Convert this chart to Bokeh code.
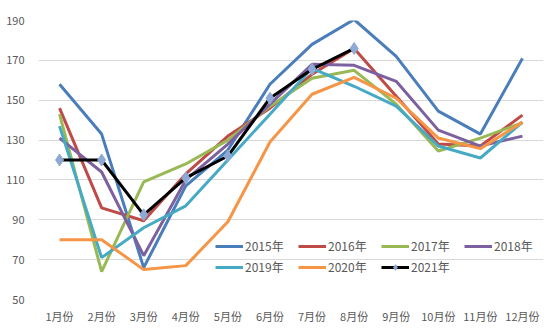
from bokeh.plotting import figure
from bokeh.models import Range1d, Legend, FixedTicker
from bokeh.embed import file_html
from bokeh.resources import INLINE

months = ["1月份", "2月份", "3月份", "4月份", "5月份", "6月份",
          "7月份", "8月份", "9月份", "10月份", "11月份", "12月份"]

y2015 = [158, 133, 66, 107, 125, 158, 178, 190.5, 172, 144.5, 133, 171]
y2016 = [146, 96, 89.5, 113, 132, 146, 163, 176, 152, 128, 127, 142.5]
y2017 = [143, 64, 109, 118, 130, 147, 161, 165, 148, 124.5, 131, 138.7]
y2018 = [131, 114, 72, 110, 128, 148, 168, 167.5, 159.5, 135, 127, 132]
y2019 = [137, 71, 86, 97, 120, 143, 166, 157, 147, 127, 121, 139]
y2020 = [80, 80, 65, 67, 89, 129, 153, 161.5, 151, 131, 125.7, 139]
y2021 = [120, 120, 92.5, 111, 122, 151, 165.5, 176]

series = [
    ("2015年", y2015, "#4A7EBB"),
    ("2016年", y2016, "#BE4B48"),
    ("2017年", y2017, "#98B954"),
    ("2018年", y2018, "#7D60A0"),
    ("2019年", y2019, "#46AAC5"),
    ("2020年", y2020, "#F69546"),
]

FONT = "Noto Sans CJK SC"
GREY = "#595959"

p = figure(width=550, height=329, x_range=months, y_range=Range1d(50, 190),
           output_backend="svg", toolbar_location=None,
           min_border_left=38, min_border_right=7, min_border_top=20,
           min_border_bottom=30)
p.outline_line_color = None
p.background_fill_color = "white"
p.border_fill_color = "white"

p.xgrid.grid_line_color = None
p.ygrid.grid_line_color = "#D9D9D9"
p.ygrid.grid_line_width = 1
p.yaxis.ticker = FixedTicker(ticks=[50, 70, 90, 110, 130, 150, 170, 190])

for ax in (p.xaxis, p.yaxis):
    ax.axis_line_color = None
    ax.major_tick_line_color = None
    ax.minor_tick_line_color = None
    ax.major_tick_in = 0
    ax.major_tick_out = 0
    ax.major_label_text_font = FONT
    ax.major_label_text_font_size = "11px"
    ax.major_label_text_color = GREY
p.yaxis.major_label_standoff = 14
p.xaxis.major_label_standoff = 8
p.x_range.range_padding = 0

items = []
for name, ys, color in series:
    r = p.line(months, ys, line_color=color, line_width=3)
    items.append((name, [r]))

r_line = p.line(months[:len(y2021)], y2021, line_color="black", line_width=3)
p.scatter(months[:len(y2021)], y2021, marker="diamond", size=12,
          fill_color="#8EA9D6", line_color="#8EA9D6")
# legend-only marker (smaller, as in the legend swatch); its point is not drawn
r_leg = p.scatter(x=[months[0]], y=[float("nan")], marker="diamond", size=8,
                  fill_color="#8EA9D6", line_color="#8EA9D6")
items.append(("2021年", [r_line, r_leg]))

legend = Legend(items=items, location=(175, 22), ncols=4,
                orientation="horizontal")
legend.label_text_font = FONT
legend.label_text_font_size = "12px"
legend.label_text_color = GREY
legend.glyph_width = 28
legend.glyph_height = 14
legend.label_standoff = 2
legend.label_width = 49
legend.spacing = 4
legend.padding = 2
legend.margin = 0
legend.background_fill_alpha = 0
legend.border_line_alpha = 0
legend.label_height = 14
p.add_layout(legend)

open("out.html", "w").write(file_html(p, INLINE))
